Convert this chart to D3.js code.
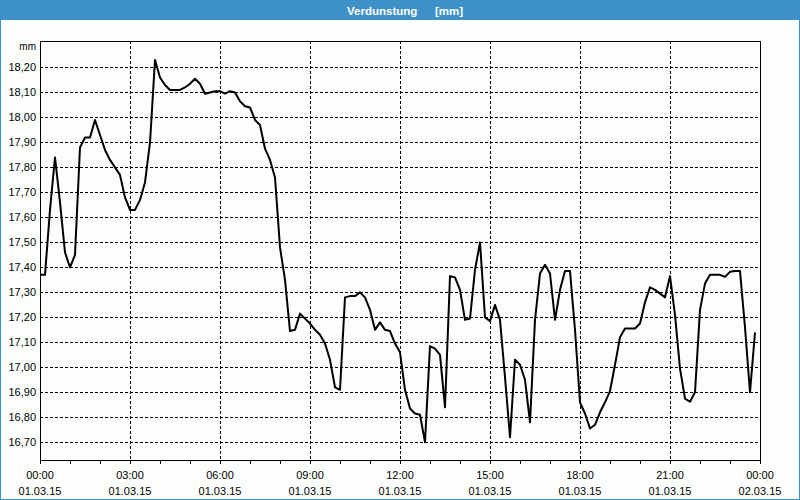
<!DOCTYPE html>
<html><head><meta charset="utf-8">
<script src="https://cdn.jsdelivr.net/npm/d3@7"></script>
<style>
html,body{margin:0;padding:0;background:#fff;}
svg{display:block;}
text{font-family:"Liberation Sans",Arial,sans-serif;}
</style></head>
<body>
<script>
// ---- data ----
const titleMain = "Verdunstung";
const titleUnit = "[mm]";
const unitLabel = "mm";
const startTime = new Date(2015, 2, 1, 0, 0);
const endTime = new Date(2015, 2, 2, 0, 0);
const stepMinutes = 10;
const values = [
17.37,17.37,17.63,17.84,17.66,17.46,17.40,17.45,17.88,17.92,
17.92,17.99,17.93,17.87,17.83,17.80,17.77,17.68,17.63,17.63,
17.67,17.74,17.90,18.23,18.16,18.13,18.11,18.11,18.11,18.12,
18.135,18.155,18.135,18.095,18.10,18.105,18.105,18.095,18.105,18.10,
18.065,18.045,18.04,17.99,17.97,17.875,17.83,17.76,17.48,17.35,
17.145,17.15,17.215,17.195,17.175,17.15,17.13,17.095,17.03,16.92,
16.91,17.28,17.285,17.285,17.30,17.28,17.23,17.15,17.18,17.15,
17.145,17.095,17.06,16.91,16.835,16.815,16.81,16.70,17.085,17.075,
17.05,16.84,17.365,17.36,17.31,17.19,17.195,17.39,17.50,17.20,
17.185,17.25,17.19,16.96,16.72,17.03,17.01,16.95,16.78,17.19,
17.375,17.41,17.375,17.19,17.31,17.385,17.385,17.15,16.86,16.815,
16.755,16.77,16.82,16.86,16.905,17.01,17.12,17.155,17.155,17.155,
17.175,17.26,17.32,17.31,17.295,17.28,17.365,17.21,16.995,16.875,
16.862,16.90,17.23,17.335,17.37,17.37,17.37,17.362,17.382,17.385,
17.385,17.16,16.90,17.14
];
const yTicks = [16.7,16.8,16.9,17.0,17.1,17.2,17.3,17.4,17.5,17.6,17.7,17.8,17.9,18.0,18.1,18.2];
const yDomain = [16.629, 18.306];

// ---- layout ----
const W = 800, H = 500;
const L = 40, R = 760, T = 41, B = 460;
const blue = "#3d91c6";

const svg = d3.select("body").append("svg").attr("width", W).attr("height", H);
svg.append("rect").attr("x",0).attr("y",0).attr("width",W).attr("height",H).attr("fill","#fcfefc");
// blue frame + title bar
svg.append("rect").attr("x",0.5).attr("y",0.5).attr("width",W-1).attr("height",H-1)
  .attr("fill","none").attr("stroke",blue).attr("stroke-width",1);
svg.append("rect").attr("x",0).attr("y",0).attr("width",W).attr("height",20).attr("fill",blue);
svg.append("text").attr("x",347).attr("y",15).attr("fill","#fff").attr("font-size",11.5)
  .attr("font-weight","bold").text(titleMain);
svg.append("text").attr("x",435).attr("y",15).attr("fill","#fff").attr("font-size",11.5)
  .attr("font-weight","bold").text(titleUnit);

const data = values.map((v,i)=>({t: d3.timeMinute.offset(startTime, i*stepMinutes), v}));

const x = d3.scaleTime().domain([startTime, endTime]).range([L, R]);
const y = d3.scaleLinear().domain(yDomain).range([B, T]);

// horizontal grid
svg.append("g").selectAll("line").data(yTicks).join("line")
  .attr("x1",L).attr("x2",R)
  .attr("y1",d=>Math.round(y(d))+0.5).attr("y2",d=>Math.round(y(d))+0.5)
  .attr("stroke","#000").attr("stroke-width",1).attr("stroke-dasharray","3,2")
  .attr("shape-rendering","crispEdges");
// vertical grid
const majorTicks = x.ticks(d3.timeHour.every(3));
svg.append("g").selectAll("line").data(majorTicks.filter(d=>+d>+startTime && +d<+endTime)).join("line")
  .attr("x1",d=>Math.round(x(d))+0.5).attr("x2",d=>Math.round(x(d))+0.5)
  .attr("y1",T).attr("y2",B)
  .attr("stroke","#000").attr("stroke-width",1).attr("stroke-dasharray","3,2")
  .attr("shape-rendering","crispEdges");

// y labels
svg.append("g").selectAll("text").data(yTicks).join("text")
  .attr("x",36).attr("y",d=>y(d)+4).attr("text-anchor","end").attr("font-size",11)
  .attr("fill","#000").text(d=>d3.format(".2f")(d).replace(".",","));
svg.append("text").attr("x",36).attr("y",50).attr("text-anchor","end").attr("font-size",10)
  .attr("fill","#000").text(unitLabel);

// x axis ticks (hourly)
const hourTicks = x.ticks(d3.timeHour.every(1));
svg.append("g").selectAll("line").data(hourTicks).join("line")
  .attr("x1",d=>Math.round(x(d))+0.5).attr("x2",d=>Math.round(x(d))+0.5)
  .attr("y1",B).attr("y2",B+4).attr("stroke","#000").attr("shape-rendering","crispEdges");
const fTime = d3.timeFormat("%H:%M"), fDate = d3.timeFormat("%d.%m.%y");
const xl = svg.append("g").selectAll("g").data(majorTicks).join("g");
xl.append("text").attr("x",d=>x(d)).attr("y",479).attr("text-anchor","middle").attr("font-size",11)
  .attr("fill","#000").text(d=>fTime(d));
xl.append("text").attr("x",d=>x(d)).attr("y",495).attr("text-anchor","middle").attr("font-size",11)
  .attr("fill","#000").text(d=>fDate(d));

// frame
svg.append("rect").attr("x",L+0.5).attr("y",T+0.5).attr("width",R-L).attr("height",B-T)
  .attr("fill","none").attr("stroke","#000").attr("stroke-width",1).attr("shape-rendering","crispEdges");

// line
svg.append("path").datum(data)
  .attr("d", d3.line().x(d=>x(d.t)).y(d=>y(d.v)))
  .attr("fill","none").attr("stroke","#000").attr("stroke-width",2).attr("stroke-linejoin","round");
</script>
</body></html>
